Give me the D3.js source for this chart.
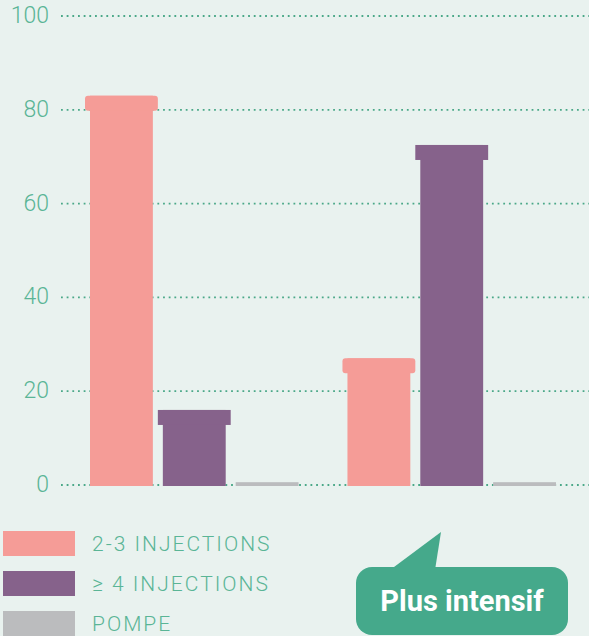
<meta charset="utf-8">
<script src="https://d3js.org/d3.v7.min.js"></script>

<svg id="vis"></svg>

<script>

  /***** DATA *****/

  var groups = ['Moins intensif', 'Plus intensif']
  var series = ['2-3 INJECTIONS', '≥ 4 INJECTIONS', 'POMPE']
  var values2to3 = [83, 27]
  var values4plus = [16, 72.5]
  var valuesPompe = [0.6, 0.6]
  var yTicks = [0, 20, 40, 60, 80, 100]

  var colors = ['#f59c97', '#86628b', '#bbbcbe']
  var teal = '#5ab596'

  /***** INITIALIZATION *****/

  var width = 589
  var height = 636

  var svg = d3.select('#vis')
  .attr('width', width)
  .attr('height', height)
  .style('background-color', '#e9f2ef')
  .style('display', 'block')

  var data = groups.map(function(g, i) {
    return { group: g, vals: [values2to3[i], values4plus[i], valuesPompe[i]] }
  })

  // Scales
  var y = d3.scaleLinear()
  .domain([0, 100])
  .range([485, 16])

  var x0 = d3.scaleBand()
  .domain(groups)
  .range([90, 556])
  .paddingInner(0.19)

  var x1 = d3.scaleBand()
  .domain(series)
  .range([0, x0.bandwidth()])
  .paddingInner(0.137)

  /***** GRID + AXIS *****/

  var yAxis = d3.axisLeft(y)
  .tickValues(yTicks)
  .tickSize(0)
  .tickPadding(12)

  var axisG = svg.append('g')
  .attr('transform', 'translate(61,0)')
  .call(yAxis)

  axisG.select('.domain').remove()
  axisG.selectAll('text')
  .style('font-family', 'Roboto')
  .style('font-weight', 300)
  .style('font-size', '23px')
  .attr('fill', teal)
  .attr('dy', '0.28em')

  svg.append('g')
  .selectAll('line')
  .data(yTicks)
  .enter()
  .append('line')
  .attr('x1', 61)
  .attr('x2', width)
  .attr('y1', function(d) { return y(d) })
  .attr('y2', function(d) { return y(d) })
  .style('stroke', '#4aa888')
  .style('stroke-width', 1.8)
  .style('stroke-dasharray', '1.8,3.87')

  /***** BARS *****/

  var groupG = svg.selectAll('.grp')
  .data(data)
  .enter()
  .append('g')
  .attr('class', 'grp')
  .attr('transform', function(d) { return 'translate(' + x0(d.group) + ',0)' })

  var bars = groupG.selectAll('.bar')
  .data(function(d) {
    return d.vals.map(function(v, i) { return { key: series[i], value: v, idx: i } })
  })
  .enter()
  .append('g')
  .attr('class', 'bar')

  bars.append('rect')
  .attr('x', function(d) { return x1(d.key) })
  .attr('y', function(d) { return y(d.value) })
  .attr('width', x1.bandwidth())
  .attr('height', function(d) { return y(0) - y(d.value) + 1 })
  .attr('fill', function(d) { return colors[d.idx] })

  // Caps on top of the taller bars
  bars.filter(function(d) { return d.idx < 2 })
  .append('rect')
  .attr('x', function(d) { return x1(d.key) - 5 })
  .attr('y', function(d) { return y(d.value) })
  .attr('width', x1.bandwidth() + 10)
  .attr('height', 15)
  .attr('rx', function(d) { return d.idx === 0 ? 3 : 0 })
  .attr('fill', function(d) { return colors[d.idx] })

  /***** LEGEND *****/

  var legend = svg.selectAll('.leg')
  .data(series)
  .enter()
  .append('g')
  .attr('class', 'leg')
  .attr('transform', function(d, i) { return 'translate(3,' + (531 + i * 40) + ')' })

  legend.append('rect')
  .attr('width', 72)
  .attr('height', 25)
  .attr('fill', function(d, i) { return colors[i] })

  legend.append('text')
  .text(function(d) { return d })
  .attr('x', 89)
  .attr('y', 20)
  .style('font-family', 'Roboto')
  .style('font-weight', 300)
  .style('font-size', '21px')
  .style('letter-spacing', '2px')
  .attr('fill', teal)

  /***** CALLOUT *****/

  var callout = svg.append('g')

  callout.append('path')
  .attr('d', 'M390,570 L435,570 L441,532 Z')
  .attr('fill', '#45a98b')

  callout.append('rect')
  .attr('x', 356)
  .attr('y', 567)
  .attr('width', 212)
  .attr('height', 68)
  .attr('rx', 16)
  .attr('fill', '#45a98b')

  callout.append('text')
  .text(groups[1])
  .attr('x', 462)
  .attr('y', 611)
  .attr('text-anchor', 'middle')
  .style('font-family', 'Roboto')
  .style('font-weight', 700)
  .style('font-size', '29px')
  .attr('fill', 'white')

</script>

<body style="margin: 0;"></body>
